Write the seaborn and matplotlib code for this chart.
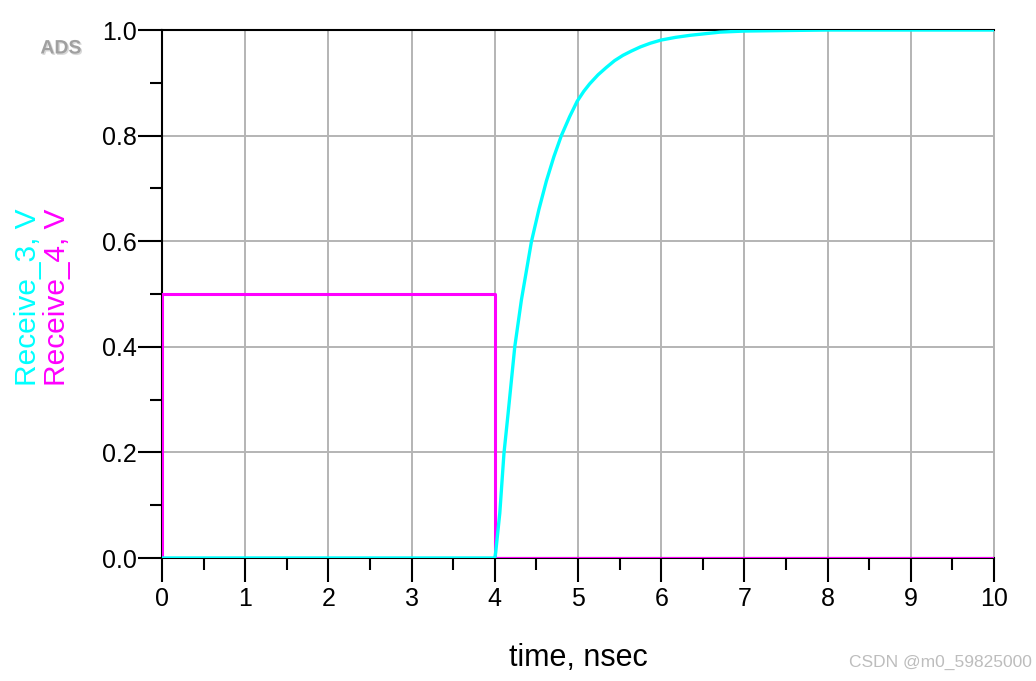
import matplotlib
matplotlib.use("Agg")
import matplotlib.pyplot as plt
import matplotlib.patheffects as pe
from matplotlib.ticker import MultipleLocator
import seaborn as sns
import pandas as pd

# Receive_4 (magenta): 0.5 V pulse from 0 to 4 ns
t4 = [0.0, 0.0, 4.0, 4.0, 10.0]
v4 = [0.0, 0.5, 0.5, 0.0, 0.0]

# Receive_3 (cyan): zero until 4 ns, then rises toward 1 V
t3 = [0.0, 4.0, 4.01, 4.06, 4.11, 4.16, 4.24, 4.32, 4.44, 4.53, 4.62, 4.71, 4.80, 4.90, 4.99,
      5.07, 5.14, 5.24, 5.34, 5.44, 5.54, 5.64, 5.75, 5.87, 6.0, 6.17, 6.35, 6.53, 6.71, 7.0, 7.5, 8.0, 10.0]
v3 = [0.0, 0.0, 0.01, 0.085, 0.198, 0.274, 0.40, 0.489, 0.599, 0.66, 0.714, 0.76, 0.80, 0.836, 0.865,
      0.884, 0.898, 0.915, 0.929, 0.942, 0.952, 0.960, 0.968, 0.975, 0.981, 0.986, 0.990, 0.993, 0.996, 0.998, 0.999, 1.0, 1.0]

xticks = [0, 1, 2, 3, 4, 5, 6, 7, 8, 9, 10]
yticks = [0.0, 0.2, 0.4, 0.6, 0.8, 1.0]

sns.set_theme(style="white")
plt.rcParams['font.family'] = ['Liberation Sans', 'DejaVu Sans']
plt.rcParams['text.color'] = 'black'
plt.rcParams['xtick.color'] = 'black'
plt.rcParams['ytick.color'] = 'black'
plt.rcParams['axes.labelcolor'] = 'black'

fig = plt.figure(figsize=(10.36, 6.81), dpi=100)
ax = fig.add_axes([162/1036, 1-558/681, (994-162)/1036, (558-30)/681])

df4 = pd.DataFrame({"t": t4, "v": v4})
df3 = pd.DataFrame({"t": t3, "v": v3})
sns.lineplot(data=df4, x="t", y="v", ax=ax, color="#FF00FF", lw=2.2, sort=False, estimator=None, zorder=3)
sns.lineplot(data=df3, x="t", y="v", ax=ax, color="#00FFFF", lw=2.4, sort=False, estimator=None, zorder=4)

ax.set_xlim(0, 10)
ax.set_ylim(0, 1.0)
ax.set_xticks(xticks)
ax.set_xticklabels([str(x) for x in xticks])
ax.set_yticks(yticks)
ax.set_yticklabels([f"{y:.1f}" for y in yticks])
ax.xaxis.set_minor_locator(MultipleLocator(0.5))
ax.yaxis.set_minor_locator(MultipleLocator(0.1))

ax.grid(True, which="major", color="#b4b4b4", lw=1.4)
ax.set_axisbelow(True)

for s in ["left", "bottom", "top"]:
    ax.spines[s].set_color("black")
    ax.spines[s].set_linewidth(1.5)
ax.spines["right"].set_color("#b4b4b4")
ax.spines["right"].set_linewidth(1.4)

ax.tick_params(which="major", direction="out", length=17, width=1.5, color="black",
               labelcolor="black", labelsize=18, left=True, bottom=True)
ax.tick_params(which="minor", direction="out", length=8.5, width=1.5, color="black",
               left=True, bottom=True)
ax.tick_params(axis="x", which="major", pad=4)
ax.tick_params(axis="y", which="major", pad=1)

ax.set_xlabel("time, nsec", fontsize=22, labelpad=23, color="black")
ax.set_ylabel("")

fig.text(28/1036, 1-386/681, "Receive_3, V", rotation=90, color="#00FFFF",
         fontsize=21.5, ha="center", va="bottom")
fig.text(57/1036, 1-386/681, "Receive_4, V", rotation=90, color="#FF00FF",
         fontsize=21.5, ha="center", va="bottom")

fig.text(61/1036, 1-49/681, "ADS", color="#a0a0a0", fontsize=14, fontweight="bold",
         ha="center", va="center",
         path_effects=[pe.withSimplePatchShadow(offset=(1, -1), shadow_rgbFace="#d8d8d8", alpha=1.0)])

fig.text(1032/1036, 1-662/681, "CSDN @m0_59825000", color="#bdbdbd", fontsize=12.5,
         ha="right", va="center")

fig.savefig("out.png", dpi=100)
